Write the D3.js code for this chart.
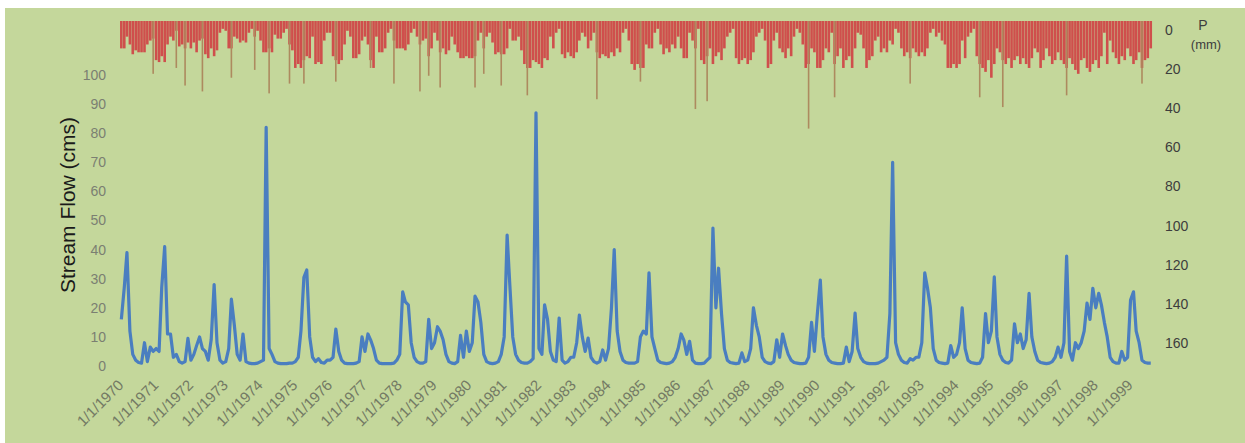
<!DOCTYPE html>
<html>
<head>
<meta charset="utf-8">
<script src="https://cdn.jsdelivr.net/npm/d3@7/dist/d3.min.js"></script>
<style>
  body { margin: 0; background: #fff; }
  text { font-family: "Liberation Sans", Arial, sans-serif; }
</style>
</head>
<body>
<div id="chart"></div>
<script>
const WIDTH = 1245, HEIGHT = 443;

// monthly stream flow (cms), Jan 1970 .. Aug 1999
const flow = [
  16,27,39,12,4,2,1.2,1,8,1.5,6.5,5,
  6,5,27,41,11,11,3,4,1.5,1,1.5,9.5,
  2,4,7,10,6,5,2,9,28,8,2,1,
  1.5,6,23,14,4,2,11,1.5,1,0.8,0.8,1,
  1.5,2,82,6,4,1.5,1,0.8,0.8,0.8,1,1,
  1.5,3,12,30.5,33,10,3,1.5,2.5,1.2,1,2,
  2,3,12.7,5,2,1,0.8,0.8,0.8,1,1.5,10,
  5,11,9,6,2,1,0.8,0.8,0.8,0.8,1,2,
  4,25.5,22,21,8,3,1.5,1,1,1.5,16,6,
  8,13.5,12,9,4,1.5,1,0.8,1.5,10.5,3,12,
  5,8,24,22,15,4,1.5,1,0.8,1,1.5,4,
  10,45,28,10,4,2,1.2,1,1,1.5,2.5,87,
  6,4,21,16,5,2,1.5,16.5,2,1,1.5,3,
  3,8,17.5,10,5,9.6,3,1.5,1,1.5,5.5,2,
  6,20,40,12,5,2,1.2,1,1,1,1.5,10,
  12,11,32,10,6,2,1.2,1,0.8,1,1.5,3,
  6,11,9,4,8.5,2,1,0.8,0.8,1,2,3,
  47.4,20,33.6,18,6,2,1.2,1,0.8,1,4.5,1.5,
  2,6,20,14,10,3,1.5,1,0.8,1.5,9,3,
  11,7,4,2,1.2,1,0.8,0.8,1,3,15,5,
  18,29.5,10,4,2,1.2,1,0.8,0.8,1,6.5,1.5,
  5,18.2,6,3,1.5,1,0.8,0.8,0.8,1,1.5,2,
  3,18,70,8,4,2,1.2,1,2.5,2,3,3,
  8,32,27,20,6,2,1.2,1,0.8,1,7,3,
  4,8,20,6,2,1.2,1,0.8,1,3,18,8,
  12,30.6,10,4,2,1.2,1,2,14.5,8,11,6,
  9,25,10,5,2,1.2,1,0.8,1,1.5,3,6.5,
  3,8,37.8,5,2,8,6,8,12,21.6,16,26.7,
  20,25,21,15,10,3,1.5,1,1,5,2,3,
  22.7,25.5,12,8,2,1.2,1,1
];

// monthly precipitation (mm), same months
const precip = [
  14,14,8,12,17,15,16,16,16,12,10,9,
  20,21,18,21,12,8,10,5,13,12,14,11,
  14,11,16,10,9,17,19,14,18,15,6,4,
  5,14,14,8,9,11,10,11,6,4,8,5,
  10,16,16,14,16,7,9,9,6,4,12,15,
  24,22,24,20,18,19,8,22,21,22,10,6,
  6,18,20,22,20,12,5,8,19,19,17,10,
  8,12,20,24,8,16,16,14,6,4,10,14,
  14,14,15,12,6,4,8,12,10,9,18,14,
  6,10,16,14,17,15,8,12,16,19,19,18,
  19,19,18,10,6,14,8,6,11,17,16,17,
  17,14,4,10,10,8,15,22,24,24,20,21,
  22,24,19,20,8,14,6,4,17,19,16,18,
  19,16,10,6,8,14,10,6,16,19,17,18,
  19,16,18,14,16,6,4,10,22,25,22,24,
  24,12,14,14,6,4,12,17,14,16,12,14,
  8,14,19,19,6,10,14,4,20,22,18,14,
  22,18,16,20,14,8,6,4,19,22,20,19,
  22,20,16,8,6,4,10,24,22,10,6,14,
  16,19,14,18,8,4,6,12,24,22,14,16,
  24,24,20,14,16,6,22,18,14,24,20,18,
  24,14,6,7,14,24,20,18,10,8,16,14,
  16,10,12,4,6,14,18,16,19,14,16,18,
  16,18,14,6,4,8,6,10,12,24,24,22,
  24,22,10,19,8,6,4,18,22,24,26,20,
  29,22,14,16,20,22,19,24,20,18,22,19,
  22,24,19,14,16,24,20,14,18,22,20,16,
  20,22,24,19,22,25,27,20,19,24,26,22,
  20,24,18,6,22,10,16,19,22,18,20,14,
  18,22,20,16,24,20,19,14
];

// single-day storms that stick out below the monthly band: [year, month, mm]
const storms = [
  [1970,12,27],[1971,8,24],[1971,11,33],[1972,5,36],[1973,3,29],[1973,11,25],
  [1974,4,37],[1974,11,32],[1975,4,32],[1976,3,31],[1977,3,24],[1977,11,32],
  [1978,8,36],[1978,11,28],[1979,3,34],[1980,3,34],[1980,6,27],[1980,12,33],
  [1981,9,38],[1983,9,40],[1984,12,31],[1986,7,45],[1986,11,41],[1989,10,55],
  [1990,7,39],[1992,9,32],[1994,9,39],[1995,5,44],[1997,3,38],[1999,5,32]
];

const years = [1970,1971,1972,1973,1974,1975,1976,1977,1978,1979,
  1980,1981,1982,1983,1984,1985,1986,1987,1988,1989,
  1990,1991,1992,1993,1994,1995,1996,1997,1998,1999];
const flowTicks = [0,10,20,30,40,50,60,70,80,90,100];
const pTicks = [0,20,40,60,80,100,120,140,160];

const monthDate = i => new Date(1970, i, 15);

const svg = d3.select("#chart").append("svg")
  .attr("width", WIDTH).attr("height", HEIGHT);

svg.append("rect").attr("x", 5).attr("y", 8)
  .attr("width", WIDTH - 5).attr("height", HEIGHT - 8)
  .attr("fill", "#c4d79b");

const x = d3.scaleTime()
  .domain([new Date(1970, 0, 1), new Date(2000, 0, 1)])
  .range([120, 1164]);
const yF = d3.scaleLinear().domain([0, 100]).range([366, 75]);
const yP = d3.scaleLinear().domain([0, 160]).range([21, 334]);

// precipitation hanging from the top
svg.append("g").selectAll("rect").data(precip).join("rect")
  .attr("x", (d, i) => x(monthDate(i)) - 1.3)
  .attr("y", yP(0))
  .attr("width", 2.6)
  .attr("height", d => yP(d) - yP(0))
  .attr("fill", "#cf4f4c");

svg.append("g").selectAll("rect").data(storms).join("rect")
  .attr("x", d => x(new Date(d[0], d[1] - 1, 15)) - 0.8)
  .attr("y", yP(0))
  .attr("width", 1.6)
  .attr("height", d => yP(d[2]) - yP(0))
  .attr("fill", "#ad8a5f");

// stream flow
const line = d3.line()
  .x((d, i) => x(monthDate(i)))
  .y(d => yF(d));
svg.append("path").datum(flow)
  .attr("fill", "none")
  .attr("stroke", "#4a7ec0")
  .attr("stroke-width", 3.2)
  .attr("stroke-linejoin", "round")
  .attr("d", line);

// left axis
const gl = svg.append("g").attr("transform", "translate(106,0)")
  .call(d3.axisLeft(yF).tickValues(flowTicks).tickSize(0).tickPadding(0));
gl.select(".domain").remove();
gl.selectAll("text").attr("fill", "#7b7f72").style("font-size", "14px")
  .style("font-family", "'Liberation Sans', Arial, sans-serif");

// right axis (labels sit a little below their bar level, as in the original)
const gr = svg.append("g").attr("transform", "translate(1165,9)")
  .call(d3.axisRight(yP).tickValues(pTicks).tickSize(0).tickPadding(0));
gr.select(".domain").remove();
gr.selectAll("text").attr("fill", "#3d3d3d").style("font-size", "14px")
  .style("font-family", "'Liberation Sans', Arial, sans-serif");

// bottom axis
const gx = svg.append("g").attr("transform", "translate(0,386)")
  .call(d3.axisBottom(x)
    .tickValues(years.map(y => new Date(y, 0, 1)))
    .tickFormat(d => `1/1/${d.getFullYear()}`)
    .tickSize(0));
gx.select(".domain").remove();
gx.selectAll("text")
  .attr("x", 0).attr("y", 0).attr("dy", 0)
  .attr("transform", "translate(4,0) rotate(-45)")
  .style("text-anchor", "end")
  .attr("fill", "#737a64").style("font-size", "15px")
  .style("font-family", "'Liberation Sans', Arial, sans-serif");

svg.append("text")
  .attr("transform", "translate(75,205) rotate(-90)")
  .attr("text-anchor", "middle")
  .attr("fill", "#1a1a1a")
  .style("font-size", "21px")
  .text("Stream Flow (cms)");

svg.append("text").attr("x", 1203).attr("y", 30)
  .attr("text-anchor", "middle").attr("fill", "#3d3d3d")
  .style("font-size", "14px").text("P");
svg.append("text").attr("x", 1206).attr("y", 49)
  .attr("text-anchor", "middle").attr("fill", "#3d3d3d")
  .style("font-size", "13px").text("(mm)");
</script>
</body>
</html>
